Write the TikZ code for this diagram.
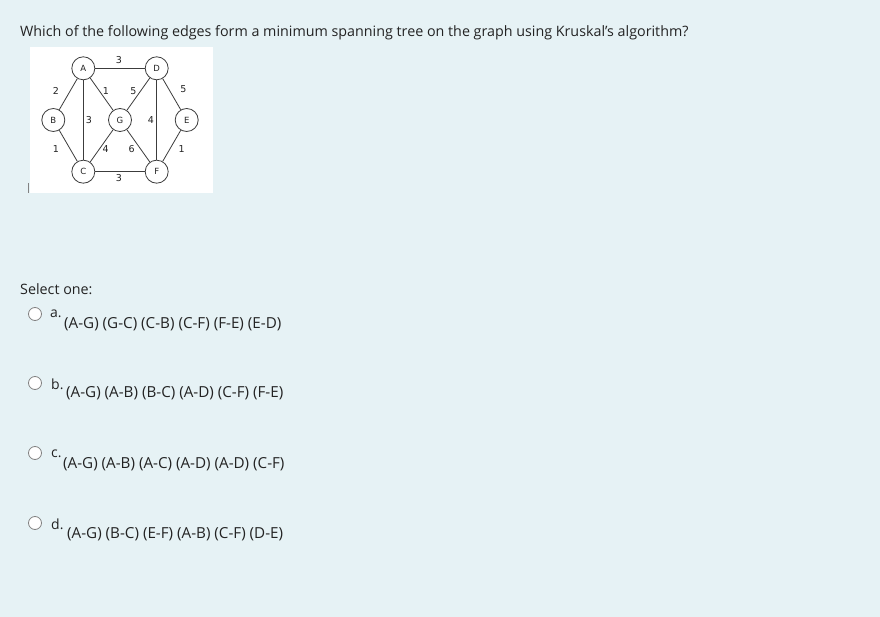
\documentclass[tikz,border=0pt]{standalone}
\usepackage{fontspec}
\setmainfont{Open Sans}
\newfontfamily\graphfont{DejaVu Sans}
\definecolor{bgc}{RGB}{230,242,245}
\definecolor{txt}{RGB}{35,35,35}
\definecolor{edgec}{RGB}{60,60,60}
\definecolor{radioc}{RGB}{130,130,130}
\begin{document}
\begin{tikzpicture}[x=1pt,y=-1pt,
  vtx/.style={circle,draw=edgec,fill=white,line width=0.8pt,minimum size=23pt,inner sep=0pt,font=\graphfont\fontsize{8.5}{9}\selectfont,text=txt},
  wt/.style={font=\graphfont\fontsize{9.5}{10}\selectfont,text=txt,inner sep=0pt},
  edg/.style={draw=edgec,line width=0.8pt},
  radio/.style={circle,draw=radioc,fill=white,line width=0.8pt,minimum size=13pt,inner sep=0pt},
  qtext/.style={font=\fontsize{14.3}{16}\selectfont,text=txt,anchor=west,inner sep=0pt},
  otext/.style={font=\fontsize{15.2}{17}\selectfont,text=txt,anchor=west,inner sep=0pt},
  lettr/.style={font=\fontsize{14}{16}\selectfont,text=txt,anchor=west,inner sep=0pt}]
\useasboundingbox (0,0) rectangle (880,617);
\fill[bgc] (0,0) rectangle (880,617);
% question
\node[qtext] (q) at (20,33) {Which of the following edges form a minimum spanning tree on the graph using Kruskal's algorithm?};
% graph image
\fill[white] (29.5,47.5) rectangle (212.5,193.5);
\draw[radioc,line width=0.8pt] (28,183) -- (28,193);
\node[vtx] (A) at (83.3,68.3) {A};
\node[vtx] (D) at (156.7,68.3) {D};
\node[vtx] (B) at (53.3,120) {B};
\node[vtx] (G) at (120,120) {G};
\node[vtx] (E) at (186.7,120) {E};
\node[vtx] (C) at (83.3,171.7) {C};
\node[vtx] (F) at (156.7,171.7) {F};
\draw[edg] (A) -- (D);
\draw[edg] (A) -- (B);
\draw[edg] (A) -- (G);
\draw[edg] (A) -- (C);
\draw[edg] (D) -- (G);
\draw[edg] (D) -- (E);
\draw[edg] (D) -- (F);
\draw[edg] (B) -- (C);
\draw[edg] (G) -- (C);
\draw[edg] (G) -- (F);
\draw[edg] (E) -- (F);
\draw[edg] (C) -- (F);
\node[wt] (wAD) at (119,60) {3};
\node[wt] (wAB) at (56,90.7) {2};
\node[wt] (wAG) at (106,90.7) {1};
\node[wt] (wGD) at (133.3,90.7) {5};
\node[wt] (wDE) at (183.3,89.3) {5};
\node[wt] (wAC) at (89,120) {3};
\node[wt] (wDF) at (151,120) {4};
\node[wt] (wBC) at (56,149.3) {1};
\node[wt] (wGC) at (105.7,149.3) {4};
\node[wt] (wGF) at (131.7,149.3) {6};
\node[wt] (wEF) at (181.7,149.3) {1};
\node[wt] (wCF) at (119,178.3) {3};
% options
\node[qtext] (sel) at (20,289) {Select one:};
\node[radio] (ra) at (35,314) {};
\node[lettr] (la) at (50,314) {a.};
\node[otext] (oa) at (64,324) {(A-G) (G-C) (C-B) (C-F) (F-E) (E-D)};
\node[radio] (rb) at (35,383) {};
\node[lettr] (lb) at (51,384) {b.};
\node[otext] (ob) at (66,393) {(A-G) (A-B) (B-C) (A-D) (C-F) (F-E)};
\node[radio] (rc) at (35,453) {};
\node[lettr] (lc) at (51,454) {c.};
\node[otext] (oc) at (63,464) {(A-G) (A-B) (A-C) (A-D) (A-D) (C-F)};
\node[radio] (rd) at (35,523) {};
\node[lettr] (ld) at (51,524) {d.};
\node[otext] (od) at (67,534) {(A-G) (B-C) (E-F) (A-B) (C-F) (D-E)};
\end{tikzpicture}
\end{document}
